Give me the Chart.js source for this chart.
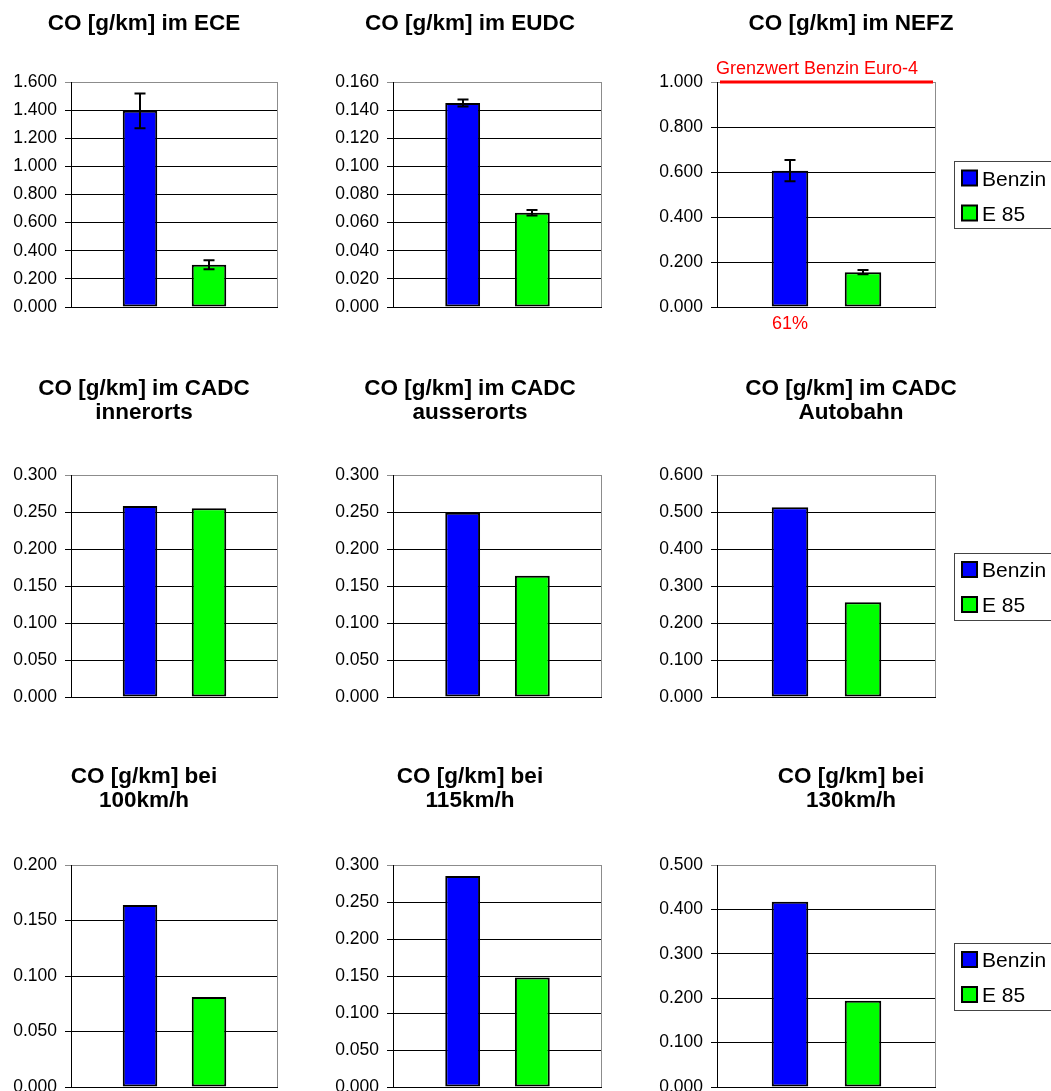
<!DOCTYPE html>
<html>
<head>
<meta charset="utf-8">
<script src="https://cdn.jsdelivr.net/npm/chart.js@4.4.1/dist/chart.umd.min.js"></script>
<style>
  html, body { margin: 0; padding: 0; background: #fff; overflow: hidden; width: 1051px; height: 1091px; }
  canvas { position: absolute; }
</style>
</head>
<body>
<script>
// ---- data ----
const panelTitles = [
  ['CO [g/km] im ECE'], ['CO [g/km] im EUDC'], ['CO [g/km] im NEFZ'],
  ['CO [g/km] im CADC', 'innerorts'], ['CO [g/km] im CADC', 'ausserorts'], ['CO [g/km] im CADC', 'Autobahn'],
  ['CO [g/km] bei', '100km/h'], ['CO [g/km] bei', '115km/h'], ['CO [g/km] bei', '130km/h']
];
const seriesNames = ['Benzin', 'E 85'];
const benzin    = [1.395, 0.145, 0.606, 0.258, 0.249, 0.513, 0.164, 0.285, 0.417];
const e85       = [0.300, 0.067, 0.155, 0.255, 0.164, 0.256, 0.081, 0.148, 0.194];
const benzinErr = [0.123, 0.0025, 0.047, null, null, null, null, null, null];
const e85Err    = [0.032, 0.002, 0.009, null, null, null, null, null, null];
const axisMax   = [1.6, 0.16, 1.0, 0.3, 0.3, 0.6, 0.2, 0.3, 0.5];
const axisStep  = [0.2, 0.02, 0.2, 0.05, 0.05, 0.1, 0.05, 0.05, 0.1];
const limitLabel = 'Grenzwert Benzin Euro-4';
const euro4Limit = [null, null, 1.0, null, null, null, null, null, null];
// category slots: the two bars sit on the inner slots
const slots = ['', 'Benzin', 'E 85', ''];

// ---- style / layout ----
const FONT = "'Liberation Sans', Arial, sans-serif";
const seriesColors = ['#0000FF', '#00FF00'];
const COL_LEFT = [0, 322, 645], COL_WIDTH = [322, 323, 420];
const ROW_TOP = [0, 340, 730], ROW_HEIGHT = [340, 390, 380];
const PLOT_X = [[71, 278], [393, 602], [717, 936]];
const PLOT_Y = [[82, 307], [475, 697], [865, 1087]];
const TITLE_CX = [144, 470, 851];
const TITLE_Y = [[22], [387, 410.7], [775, 798.5]];
const TITLE_SIZE = 22.5, TICK_SIZE = 17.5, LEGEND_SIZE = 21, NOTE_SIZE = 18;

const decor = {
  id: 'panelDecor',
  afterDatasetsDraw(chart, args, o) {
    const ctx = chart.ctx, ys = chart.scales.y, a = chart.chartArea;
    ctx.save();
    // right edge of the plot frame
    ctx.strokeStyle = '#8c8c8c'; ctx.lineWidth = 1;
    const rx = Math.round(a.right) - 0.5;
    ctx.beginPath(); ctx.moveTo(rx, a.top); ctx.lineTo(rx, a.bottom); ctx.stroke();
    // error bars
    ctx.strokeStyle = '#000'; ctx.lineWidth = 2;
    o.errors.forEach((err, d) => {
      if (err == null) return;
      const slot = d + 1;
      const bar = chart.getDatasetMeta(d).data[slot];
      const v = chart.data.datasets[d].data[slot];
      const yt = ys.getPixelForValue(v + err), yb = ys.getPixelForValue(v - err);
      const x = Math.round(bar.x), half = 5.5;
      ctx.beginPath();
      ctx.moveTo(x, yt); ctx.lineTo(x, yb);
      ctx.moveTo(x - half, yt); ctx.lineTo(x + half, yt);
      ctx.moveTo(x - half, yb); ctx.lineTo(x + half, yb);
      ctx.stroke();
    });
    ctx.restore();
  },
  afterDraw(chart, args, o) {
    const ctx = chart.ctx, ys = chart.scales.y, a = chart.chartArea;
    ctx.save();
    // title
    ctx.fillStyle = '#000';
    ctx.font = `bold ${TITLE_SIZE}px ${FONT}`;
    ctx.textAlign = 'center'; ctx.textBaseline = 'alphabetic';
    o.title.forEach((line, k) => ctx.fillText(line, o.titleX, o.titleY[k] + 0.358 * TITLE_SIZE));

    // limit line with its label and the share of the limit reached by Benzin
    if (o.limit != null) {
      const ly = ys.getPixelForValue(o.limit);
      ctx.strokeStyle = '#FF0000'; ctx.lineWidth = 3;
      ctx.beginPath(); ctx.moveTo(a.left + 3, ly); ctx.lineTo(a.right - 3, ly); ctx.stroke();
      ctx.fillStyle = '#FF0000';
      ctx.font = `${NOTE_SIZE}px ${FONT}`;
      ctx.textAlign = 'left';
      ctx.fillText(limitLabel, a.left - 1, ly - 7.6);
      const bar = chart.getDatasetMeta(0).data[1];
      const share = Math.round(chart.data.datasets[0].data[1] / o.limit * 100);
      ctx.textAlign = 'center';
      ctx.fillText(share + '%', bar.x, a.bottom + 22);
    }

    // boxed legend
    if (o.legend) {
      const left = a.right + 18, cy = (a.top + a.bottom) / 2, top = cy - 33.5;
      ctx.strokeStyle = '#444'; ctx.lineWidth = 1;
      ctx.strokeRect(Math.round(left) + 0.5, Math.round(top) + 0.5, 200, 67);
      ctx.font = `${LEGEND_SIZE}px ${FONT}`;
      ctx.textAlign = 'left';
      chart.data.datasets.forEach((ds, k) => {
        const ry = top + 17 + k * 35;
        ctx.fillStyle = ds.backgroundColor;
        ctx.fillRect(left + 8, ry - 7.5, 15, 15);
        ctx.strokeStyle = '#000'; ctx.lineWidth = 2;
        ctx.strokeRect(left + 8, ry - 7.5, 15, 15);
        ctx.fillStyle = '#000';
        ctx.fillText(ds.label, left + 28, ry + 0.358 * LEGEND_SIZE);
      });
    }
    ctx.restore();
  }
};

function makePanel(i) {
  const r = Math.floor(i / 3), c = i % 3;
  const W = COL_WIDTH[c], H = ROW_HEIGHT[r];
  const cv = document.createElement('canvas');
  cv.width = W; cv.height = H;
  cv.style.left = COL_LEFT[c] + 'px'; cv.style.top = ROW_TOP[r] + 'px';
  cv.style.width = W + 'px'; cv.style.height = H + 'px';
  document.body.appendChild(cv);

  const axisW = PLOT_X[c][0] - COL_LEFT[c];
  const max = axisMax[i];
  const barStyle = {
    grouped: false, categoryPercentage: 1, barPercentage: 0.5,
    borderColor: '#000', borderWidth: 2, borderSkipped: false
  };

  new Chart(cv, {
    type: 'bar',
    data: {
      labels: slots,
      datasets: [
        Object.assign({ label: seriesNames[0], backgroundColor: seriesColors[0],
          data: slots.map((s, k) => (k === 1 ? benzin[i] : null)) }, barStyle),
        Object.assign({ label: seriesNames[1], backgroundColor: seriesColors[1],
          data: slots.map((s, k) => (k === 2 ? e85[i] : null)) }, barStyle)
      ]
    },
    options: {
      responsive: false,
      animation: false,
      devicePixelRatio: 1,
      layout: {
        padding: {
          left: 0,
          right: COL_LEFT[c] + W - PLOT_X[c][1],
          top: PLOT_Y[r][0] - ROW_TOP[r],
          bottom: ROW_TOP[r] + H - PLOT_Y[r][1]
        }
      },
      plugins: {
        legend: { display: false },
        tooltip: { enabled: false },
        panelDecor: {
          title: panelTitles[i],
          titleX: TITLE_CX[c] - COL_LEFT[c],
          titleY: TITLE_Y[r].map(v => v - ROW_TOP[r]),
          errors: [benzinErr[i], e85Err[i]],
          limit: euro4Limit[i],
          legend: c === 2
        }
      },
      scales: {
        x: { display: false, offset: false },
        y: {
          min: 0, max: max,
          ticks: {
            stepSize: axisStep[i],
            callback: v => Number(v).toFixed(3),
            color: '#000',
            padding: 8,
            font: { family: FONT, size: TICK_SIZE }
          },
          grid: {
            color: ctx => (ctx.tick && Math.abs(ctx.tick.value - max) < 1e-9) ? '#8c8c8c' : '#000',
            lineWidth: 1,
            tickLength: 6
          },
          border: { display: true, color: '#000', width: 1 },
          afterFit: s => { s.width = axisW; }
        }
      }
    },
    plugins: [decor]
  });
}

for (let i = 0; i < 9; i++) makePanel(i);
</script>
</body>
</html>
